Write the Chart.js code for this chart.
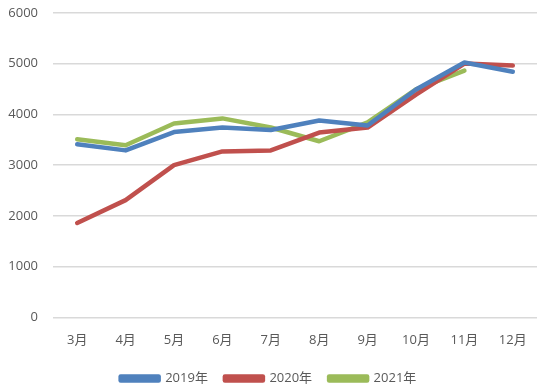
<!DOCTYPE html>
<html><head><meta charset="utf-8">
<script src="https://cdn.jsdelivr.net/npm/chart.js@4/dist/chart.umd.min.js"></script>
<style>html,body{margin:0;padding:0;background:#fff;overflow:hidden}#w{width:550px;height:405px;margin-top:-10px}</style>
</head><body><div id="w"><canvas id="c"></canvas></div>
<script>
const categories = ['3月','4月','5月','6月','7月','8月','9月','10月','11月','12月'];
const s2019 = [3410,3290,3650,3740,3690,3880,3780,4490,5020,4840];
const s2020 = [1860,2310,3000,3270,3290,3640,3740,4390,5000,4960];
const s2021 = [3510,3390,3820,3920,3740,3470,3840,4490,4860,null];
const yTicks = [0,1000,2000,3000,4000,5000,6000];
const font = {family:'"Open Sans", "Noto Sans CJK SC", sans-serif', size:13};
new Chart(document.getElementById('c'), {
  type:'line',
  data:{labels:categories, datasets:[
    {label:'2019年', data:s2019, borderColor:'#4F81BD', backgroundColor:'#4F81BD'},
    {label:'2020年', data:s2020, borderColor:'#C0504D', backgroundColor:'#C0504D'},
    {label:'2021年', data:s2021, borderColor:'#9BBB59', backgroundColor:'#9BBB59'}
  ].map(d=>Object.assign(d,{borderWidth:4.5,pointRadius:0,tension:0,borderCapStyle:'round',borderJoinStyle:'round',spanGaps:false}))},
  options:{
    responsive:true, maintainAspectRatio:false, animation:false,
    layout:{padding:{top:0,right:13,left:0,bottom:0}},
    plugins:{
      legend:{position:'bottom', labels:{color:'#595959', font:font, boxWidth:38, boxHeight:4, padding:17}},
      tooltip:{enabled:false}
    },
    scales:{
      x:{offset:true, grid:{display:false}, border:{display:false},
         ticks:{color:'#595959', font:font, padding:7}},
      y:{min:0,max:6000, afterBuildTicks:a=>{a.ticks=yTicks.map(v=>({value:v}));},
         afterFit:a=>{a.width=53;},
         grid:{color:'#D9D9D9', lineWidth:1.5, drawTicks:false}, border:{display:false},
         ticks:{color:'#595959', font:font, padding:15, callback:v=>String(v)}}
    }
  }
});
</script></body></html>
